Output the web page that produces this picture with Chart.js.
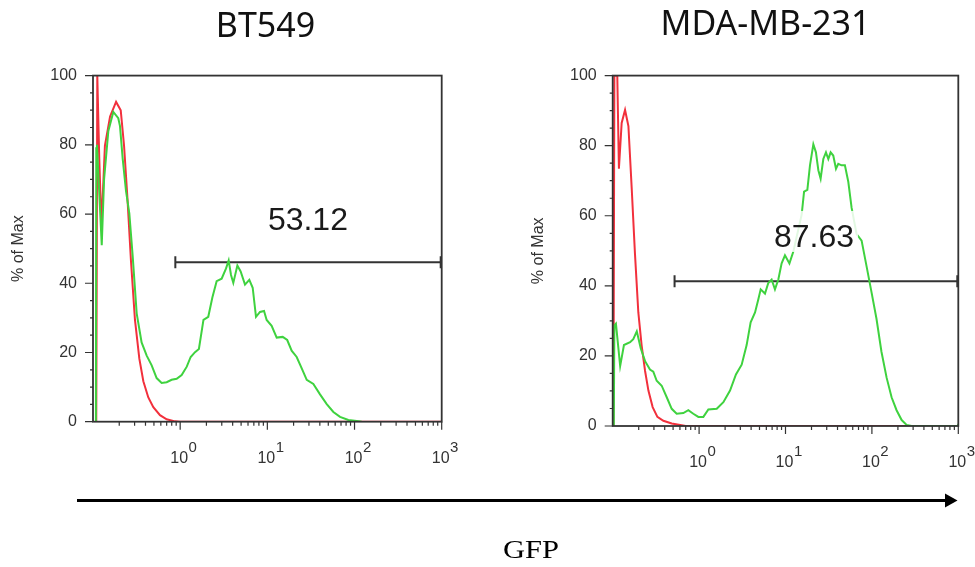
<!DOCTYPE html>
<html>
<head>
<meta charset="utf-8">
<script src="https://cdn.jsdelivr.net/npm/chart.js@4.4.1/dist/chart.umd.min.js"></script>
<style>
  html, body { margin: 0; padding: 0; background: #fff; }
  body { width: 975px; height: 567px; position: relative; overflow: hidden; }
  .plot { position: absolute; top: 50px; height: 430px; }
  #wrapA { left: 0; width: 487px; }
  #wrapB { left: 487px; width: 488px; }
  svg { position: absolute; left: 0; top: 0; pointer-events: none; }
</style>
</head>
<body>
<div class="plot" id="wrapA"><canvas id="histA" width="487" height="430"></canvas></div>
<div class="plot" id="wrapB"><canvas id="histB" width="488" height="430"></canvas></div>
<svg width="975" height="567">
  <text x="265.5" y="37" text-anchor="middle" font-family="Noto Sans" font-size="34" fill="#111">BT549</text>
  <text x="765.5" y="35" text-anchor="middle" font-family="Noto Sans" font-size="34" fill="#111">MDA-MB-231</text>
  <line x1="77" y1="500.5" x2="947" y2="500.5" stroke="#000" stroke-width="3"/>
  <polygon points="945,493.5 957.5,500.5 945,507.5" fill="#000"/>
  <text x="531" y="558" text-anchor="middle" font-family="Liberation Serif" font-size="25" textLength="56" lengthAdjust="spacingAndGlyphs" fill="#000">GFP</text>
</svg>
<script>
// GFP intensity (x) and % of Max (y)
const bt549GreenX = [0.108, 0.109, 0.111, 0.126, 0.134, 0.150, 0.171, 0.195, 0.204, 0.219, 0.239, 0.261, 0.285, 0.317,
  0.361, 0.413, 0.471, 0.537, 0.613, 0.700, 0.798, 0.911, 1.04, 1.19, 1.32, 1.48, 1.64, 1.85, 2.10, 2.34, 2.62, 2.99,
  3.36, 3.60, 3.83, 4.07, 4.53, 4.94, 5.54, 6.21, 6.79, 7.41, 8.24, 9.16, 9.82, 11.2, 12.8, 15.0, 16.9, 19.0, 21.7,
  24.8, 28.3, 33.7, 40.2, 48.0, 57.2, 68.2, 85.0, 106, 121];
const bt549GreenY = [0, 79, 80, 51, 70, 84, 89.5, 87.7, 85.4, 76, 66.7, 60.2, 48, 31.3,
  22.9, 19.1, 16.3, 12.6, 11.2, 11.4, 12.1, 12.4, 13.5, 15.9, 18.7, 20.1, 21, 29.4, 30.3, 35.9, 40.6, 41.3,
  44.3, 46.6, 42.4, 40.1, 45.1, 43.4, 39.6, 41, 38.7, 30.3, 31.7, 32, 29.4, 27.7, 24.3, 24.5, 23.6, 20.5, 18.7,
  15.4, 12.1, 10.9, 7.9, 5.1, 2.8, 1.4, 0.5, 0.2, 0];
const bt549RedX = [0.109, 0.112, 0.118, 0.125, 0.137, 0.157, 0.184, 0.208, 0.227, 0.248, 0.273, 0.303, 0.340,
  0.378, 0.431, 0.492, 0.587, 0.700, 0.873, 1.0, 1000];
const bt549RedY = [0, 100, 76, 56.4, 79.8, 88.2, 92.4, 90, 79.8, 64.8, 46.2, 29.4, 18.2,
  11.7, 7, 4.2, 1.9, 0.7, 0.1, 0, 0];

const mdaGreenX = [0.103, 0.1045, 0.109, 0.122, 0.135, 0.159, 0.173, 0.190, 0.211, 0.237, 0.270, 0.295, 0.323,
  0.369, 0.422, 0.482, 0.550, 0.657, 0.750, 0.857, 0.98, 1.12, 1.28, 1.60, 1.91, 2.28, 2.67, 3.11, 3.55, 3.95,
  4.44, 4.85, 5.16, 5.79, 6.32, 6.91, 7.55, 8.26, 9.02, 9.86, 11.1, 12.3, 13.7, 15.4, 16.4, 17.9, 19.2, 21.0,
  22.5, 24.0, 25.5, 27.4, 29.4, 31.3, 33.3, 35.7, 38.4, 40.8, 44.6, 48.7, 53.3, 58.2, 66.5, 76.0, 86.9, 99.3,
  113, 129, 148, 169, 193, 221, 252, 288, 990, 1000];
const mdaGreenY = [0, 28.7, 29.2, 17.1, 23.1, 23.9, 24.8, 27, 22.2, 18.5, 16.1, 15.5, 12.9,
  11.5, 8.2, 4.9, 3.5, 3.7, 4.5, 3.5, 2.6, 2.6, 4.7, 4.9, 6.8, 10.1, 14.7, 17.5, 23.1, 29.6,
  32.4, 36.2, 39, 37.8, 40.8, 41.8, 39, 41.8, 46.4, 48.7, 46.4, 49.7, 54.8, 60.4, 66.9, 67.4, 74.4, 80.4,
  78.1, 73, 70.6, 76.2, 78.1, 76.2, 78.1, 77.2, 73.4, 74.8, 74.4, 74.4, 69.7, 62.3, 54.8, 52.9, 45.5, 38,
  30.6, 21.2, 13.8, 8.2, 4.5, 1.7, 0.3, 0, 0, 0.6];
const mdaRedX = [0.102, 0.1045, 0.113, 0.118, 0.127, 0.139, 0.152, 0.166, 0.181, 0.198, 0.216, 0.237, 0.259,
  0.290, 0.329, 0.386, 0.482, 0.628, 0.70, 1000];
const mdaRedY = [0, 100, 100, 73.4, 86.5, 90.2, 85.6, 67.8, 49.2, 32.4, 23.1, 15.7, 10.1,
  5.4, 2.6, 1.5, 0.7, 0.2, 0, 0];

// gates: [start, end] on GFP axis, level in % of Max, and the gated percentage
const bt549Gate = [0.88, 1000];
const bt549GateLevel = 46.1;
const bt549GatePct = '53.12';
const mdaGate = [0.52, 1000];
const mdaGateLevel = 41.3;
const mdaGatePct = '87.63';

const xTickValues = [1, 10, 100, 1000];
const xTickExps = ['0', '1', '2', '3'];
const yTickValues = [0, 20, 40, 60, 80, 100];

const GREEN = '#3fd23f';
const RED = '#f2303c';
const AXIS = '#333';
const FONT = '"Liberation Sans", Arial, sans-serif';

function pts(xs, ys) {
  return xs.map((x, i) => ({ x: x, y: ys[i] }));
}

const histDecor = {
  id: 'histDecor',
  afterDraw(chart, args, opts) {
    const { ctx, chartArea: a, scales: { x, y } } = chart;
    ctx.save();

    // frame
    ctx.strokeStyle = AXIS;
    ctx.lineWidth = 1.8;
    ctx.strokeRect(a.left, a.top, a.right - a.left, a.bottom - a.top);

    // tick marks
    ctx.lineWidth = 1.2;
    ctx.beginPath();
    for (let v = 0; v <= 100; v += 5) {
      const py = y.getPixelForValue(v);
      const len = yTickValues.includes(v) ? 8 : 3;
      ctx.moveTo(a.left - len, py);
      ctx.lineTo(a.left, py);
    }
    for (let d = 0.1; d < 1000; d *= 10) {
      for (let k = 2; k <= 9; k++) {
        const px = x.getPixelForValue(k * d);
        ctx.moveTo(px, a.bottom);
        ctx.lineTo(px, a.bottom + 4);
      }
    }
    xTickValues.forEach(v => {
      const px = x.getPixelForValue(v);
      ctx.moveTo(px, a.bottom);
      ctx.lineTo(px, a.bottom + 8);
    });
    ctx.stroke();

    // x labels 10^n
    ctx.fillStyle = AXIS;
    ctx.textBaseline = 'alphabetic';
    xTickValues.forEach((v, i) => {
      const px = x.getPixelForValue(v);
      ctx.font = '16px ' + FONT;
      ctx.textAlign = 'center';
      const w = ctx.measureText('10').width;
      ctx.fillText('10', px - 1, a.bottom + 41);
      ctx.font = '15px ' + FONT;
      ctx.textAlign = 'left';
      ctx.fillText(xTickExps[i], px - 1 + w / 2 + 0.5, a.bottom + 30);
    });

    // gate end caps
    const gy = y.getPixelForValue(opts.level);
    ctx.strokeStyle = AXIS;
    ctx.lineWidth = 2;
    ctx.beginPath();
    opts.gate.forEach(g => {
      const px = Math.min(x.getPixelForValue(g), a.right - 1);
      ctx.moveTo(px, gy - 6);
      ctx.lineTo(px, gy + 6);
    });
    ctx.stroke();

    // gated percentage
    ctx.font = '32px ' + FONT;
    ctx.textAlign = 'center';
    const lx = x.getPixelForValue(opts.labelAt[0]);
    const ly = y.getPixelForValue(opts.labelAt[1]);
    const tw = ctx.measureText(opts.pct).width;
    ctx.fillStyle = 'rgba(255,255,255,0.85)';
    ctx.fillRect(lx - tw / 2 - 4, ly - 36, tw + 8, 41);
    ctx.fillStyle = '#1a1a1a';
    ctx.fillText(opts.pct, lx, ly);
    ctx.restore();
  }
};

function makeChart(id, green, red, gate, level, pct, labelAt, pad) {
  return new Chart(document.getElementById(id), {
    type: 'line',
    data: {
      datasets: [
        { data: green, borderColor: GREEN, borderWidth: 2, pointRadius: 0, tension: 0, fill: false },
        { data: red, borderColor: RED, borderWidth: 2, pointRadius: 0, tension: 0, fill: false },
        { data: gate.map(g => ({ x: g, y: level })), borderColor: AXIS, borderWidth: 2, pointRadius: 0, fill: false }
      ]
    },
    options: {
      responsive: false,
      animation: false,
      events: [],
      layout: { padding: pad },
      scales: {
        x: {
          type: 'logarithmic',
          min: 0.1,
          max: 1000,
          afterFit(s) { s.height = 50; },
          grid: { display: false, drawTicks: false },
          border: { display: false },
          ticks: { display: false }
        },
        y: {
          min: 0,
          max: 100,
          afterFit(s) { s.width = 93; },
          grid: { display: false, drawTicks: false },
          border: { display: false },
          afterBuildTicks(s) { s.ticks = yTickValues.map(v => ({ value: v })); },
          ticks: { padding: 16, color: AXIS, font: { family: FONT, size: 16 } },
          title: {
            display: true,
            text: '% of Max',
            color: AXIS,
            font: { family: FONT, size: 16 },
            padding: { top: 9, bottom: 0 }
          }
        }
      },
      plugins: {
        legend: { display: false },
        tooltip: { enabled: false },
        histDecor: { gate: gate, level: level, pct: pct, labelAt: labelAt }
      }
    },
    plugins: [histDecor]
  });
}

makeChart('histA', pts(bt549GreenX, bt549GreenY), pts(bt549RedX, bt549RedY),
  bt549Gate, bt549GateLevel, bt549GatePct, [29.2, 55.5],
  { left: 0, top: 14, right: 45.3, bottom: 8.3 });
makeChart('histB', pts(mdaGreenX, mdaGreenY), pts(mdaRedX, mdaRedY),
  mdaGate, mdaGateLevel, mdaGatePct, [21.4, 51.1],
  { left: 32.7, top: 18.3, right: 16.7, bottom: 4 });
</script>
</body>
</html>
